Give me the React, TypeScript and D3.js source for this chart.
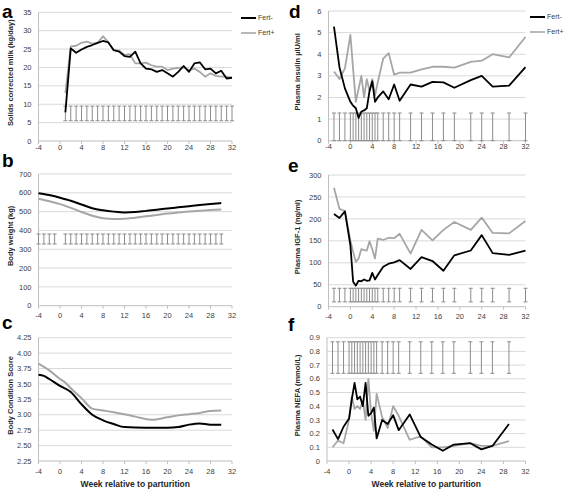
import React from "react";
import * as d3 from "d3";

// ---------- Data ----------
const xTicks = [-4, 0, 4, 8, 12, 16, 20, 24, 28, 32];

// a: Solids corrected milk
const aWeeks = [1,2,3,4,5,6,7,8,9,10,11,12,13,14,15,16,17,18,19,20,21,22,23,24,25,26,27,28,29,30,31,32];
const aFertMinus = [7.8,25.2,24.0,24.9,25.6,26.1,26.7,27.2,26.8,24.7,24.3,23.1,22.9,24.3,21.1,19.7,19.5,18.8,19.3,18.4,17.5,18.8,20.4,18.8,21.1,21.4,19.5,19.7,18.4,19.1,17.0,17.2];
const aFertPlus = [13.0,25.7,25.9,26.7,27.0,26.5,26.7,28.5,26.8,24.7,24.6,23.4,23.6,21.1,21.1,21.3,20.6,20.2,20.2,19.3,19.7,19.9,20.0,19.3,19.7,18.8,17.5,18.4,17.7,17.5,17.5,17.2];
const aErrWeeks = [1,2,3,4,5,6,7,8,9,10,11,12,13,14,15,16,17,18,19,20,21,22,23,24,25,26,27,28,29,30,31,32];
const aErrLo = 5.5, aErrHi = 9.5;
const aYTicks = [0, 5, 10, 15, 20, 25, 30, 35];

// b: Body weight
const bWeeks = [-4,-2,0,2,4,6,8,10,12,14,16,18,20,22,24,26,28,30];
const bFertMinus = [598,588,574,558,538,518,507,500,496,498,504,510,517,523,529,535,540,546];
const bFertPlus = [568,555,540,520,498,478,465,461,462,468,475,482,490,496,501,505,509,511];
const bErrWeeks = [-4,-3,-2,-1,1,2,3,4,5,6,7,8,9,10,11,12,13,14,15,16,17,18,19,20,21,22,23,24,25,26,27,28,29,30];
const bErrLo = 328, bErrHi = 381;
const bYTicks = [0, 100, 200, 300, 400, 500, 600, 700];

// c: Body condition score
const cWeeksMinus = [-4,-3,-2,0,2,4,6,8,10,12,16,20,22,24,26,28,30];
const cFertMinus = [3.65,3.63,3.58,3.47,3.37,3.17,3.0,2.91,2.85,2.8,2.79,2.79,2.8,2.84,2.86,2.84,2.84];
const cWeeksPlus = [-4,-2,0,1,2,4,6,8,10,12,14,17,20,22,24,26,28,30];
const cFertPlus = [3.83,3.72,3.58,3.52,3.43,3.27,3.1,3.07,3.04,3.01,2.97,2.92,2.96,2.99,3.01,3.03,3.06,3.07];
const cYTicks = [2.25, 2.5, 2.75, 3.0, 3.25, 3.5, 3.75, 4.0, 4.25];

// d, e, f: plasma samples
const sWeeks = [-3,-2,-1,0,0.5,1,1.5,2,2.5,3,3.5,4,4.5,5,6,7,8,9,11,13,15,17,19,22,24,26,29,32];
const dFertMinus = [5.28,3.4,2.42,1.8,1.62,1.5,1.05,1.35,1.4,1.5,2.3,2.75,1.8,2.0,2.28,1.92,2.6,1.85,2.6,2.5,2.72,2.7,2.45,2.8,3.0,2.5,2.55,3.4];
const dFertPlus = [3.2,2.85,3.35,4.9,3.3,1.8,2.4,3.0,2.0,2.85,2.3,2.85,2.1,2.7,3.8,4.05,3.05,3.15,3.15,3.3,3.42,3.42,3.38,3.65,3.7,4.0,3.85,4.8];
const dErrLo = 0, dErrHi = 1.28;
const dYTicks = [0, 1, 2, 3, 4, 5, 6];

const eFertMinus = [211,202,217,140,57,48,59,58,62,59,60,77,62,72,91,98,101,106,86,113,104,82,117,128,163,122,118,128];
const eFertPlus = [271,223,218,151,125,102,110,131,129,128,149,131,110,155,152,157,156,166,121,175,151,175,193,175,203,168,167,195];
const eErrLo = 11, eErrHi = 42;
const eYTicks = [0, 50, 100, 150, 200, 250, 300];

const fWeeks = [-3,-2,-1,0,0.5,1,1.5,2,2.5,3,3.5,4,4.5,5,6,7,8,9,11,13,15,17,19,22,24,26,29];
const fFertMinus = [0.23,0.16,0.25,0.31,0.45,0.57,0.45,0.47,0.4,0.57,0.33,0.35,0.39,0.165,0.3,0.27,0.335,0.225,0.34,0.175,0.12,0.075,0.12,0.13,0.085,0.11,0.27];
const fFertPlus = [0.1,0.15,0.13,0.3,0.47,0.38,0.4,0.38,0.44,0.3,0.6,0.35,0.22,0.49,0.32,0.24,0.4,0.33,0.155,0.18,0.1,0.1,0.11,0.13,0.11,0.11,0.145];
const fErrLo = 0.64, fErrHi = 0.87;
const fYTicks = [0, 0.1, 0.2, 0.3, 0.4, 0.5, 0.6, 0.7, 0.8, 0.9];

const seriesNames = ["Fert-", "Fert+"];

// ---------- Styles ----------
const BLACK = "#000000";
const GREY = "#a6a6a6";
const GRID = "#d9d9d9";
const AXIS = "#bfbfbf";
const ERR = "#8c8c8c";
const TXT = "#404040";
const FONT = "'Liberation Sans', Arial, sans-serif";

type Series = { xs: number[]; ys: number[]; color: string; smooth?: boolean };

type PanelProps = {
  letter: string;
  letterX: number;
  letterY: number;
  x0: number;
  x1: number;
  y0: number;
  y1: number;
  yDomain: [number, number];
  yTicks: number[];
  yFmt: (v: number) => string;
  yTitle: string;
  titleX: number;
  series: Series[];
  errX?: number[];
  errLo?: number;
  errHi?: number;
  xLabelOffset: number;
  xTitle?: boolean;
  legend?: { x: number; y: number };
};

function Panel(p: PanelProps) {
  const x = d3.scaleLinear().domain([-4, 32]).range([p.x0, p.x1]);
  const y = d3.scaleLinear().domain(p.yDomain).range([p.y1, p.y0]);
  return (
    <g>
      <text x={p.letterX} y={p.letterY} fontFamily={FONT} fontWeight="bold" fontSize={19} fill="#000">
        {p.letter}
      </text>
      {p.yTicks.map((t, i) => (
        <g key={"g" + i}>
          {i > 0 && <line x1={p.x0} x2={p.x1} y1={y(t)} y2={y(t)} stroke={GRID} strokeWidth={1} />}
          <text x={p.x0 - 7} y={y(t)} dy="0.35em" textAnchor="end" fontFamily={FONT} fontSize={7.5} fill={TXT}>
            {p.yFmt(t)}
          </text>
        </g>
      ))}
      <line x1={p.x0} x2={p.x0} y1={p.y0} y2={p.y1} stroke={AXIS} strokeWidth={1} />
      <line x1={p.x0} x2={p.x1} y1={p.y1} y2={p.y1} stroke={AXIS} strokeWidth={1} />
      {xTicks.map((t, i) => (
        <g key={"x" + i}>
          <line x1={x(t)} x2={x(t)} y1={p.y1} y2={p.y1 + 3} stroke={AXIS} strokeWidth={1} />
          <text x={x(t)} y={p.y1 + p.xLabelOffset} dy="0.35em" textAnchor="middle" fontFamily={FONT} fontSize={7.5} fill={TXT}>
            {t}
          </text>
        </g>
      ))}
      {p.errX &&
        p.errX.map((w, i) => {
          const cx = x(w);
          const ya = y(p.errLo as number);
          const yb = y(p.errHi as number);
          return (
            <g key={"e" + i} stroke={ERR} strokeWidth={1}>
              <line x1={cx} x2={cx} y1={ya} y2={yb} />
              <line x1={cx - 2} x2={cx + 2} y1={ya} y2={ya} />
              <line x1={cx - 2} x2={cx + 2} y1={yb} y2={yb} />
            </g>
          );
        })}
      {p.series.map((s, i) => {
        const gen = d3
          .line<number>()
          .x((_, j) => x(s.xs[j]))
          .y((v) => y(v))
          .curve(s.smooth ? d3.curveMonotoneX : d3.curveLinear);
        return (
          <path key={"s" + i} d={gen(s.ys) || ""} fill="none" stroke={s.color} strokeWidth={s.smooth ? 2 : 1.8} strokeLinejoin="round" />
        );
      })}
      <text
        transform={`translate(${p.titleX},${(p.y0 + p.y1) / 2 - 4}) rotate(-90)`}
        textAnchor="middle"
        fontFamily={FONT}
        fontWeight="bold"
        fontSize={7.5}
        fill="#262626"
      >
        {p.yTitle}
      </text>
      {p.xTitle && (
        <text x={(p.x0 + p.x1) / 2} y={p.y1 + 26} textAnchor="middle" fontFamily={FONT} fontWeight="bold" fontSize={8.5} fill="#262626">
          Week relative to parturition
        </text>
      )}
      {p.legend &&
        seriesNames.map((n, i) => (
          <g key={"l" + i}>
            <line
              x1={p.legend!.x}
              x2={p.legend!.x + 15}
              y1={p.legend!.y + i * 15}
              y2={p.legend!.y + i * 15}
              stroke={i === 0 ? BLACK : GREY}
              strokeWidth={i === 0 ? 2 : 1.6}
            />
            <text x={p.legend!.x + 17} y={p.legend!.y + i * 15} dy="0.35em" fontFamily={FONT} fontSize={7} fill={TXT}>
              {n}
            </text>
          </g>
        ))}
    </g>
  );
}

const intFmt = (v: number) => d3.format("d")(v);
const f2 = (v: number) => d3.format(".2f")(v);
const f1 = (v: number) => (v === 0 ? "0" : d3.format(".1f")(v));

export default function App() {
  const L0 = 38.5, L1 = 232;
  const R0 = 328.5, R1 = 525.5;
  return (
    <svg width={567} height={490} style={{ position: "absolute", left: 0, top: 0, background: "#fff" }}>
      <rect width={567} height={490} fill="#fff" />
      <Panel
        letter="a" letterX={2} letterY={18}
        x0={L0} x1={L1} y0={12.3} y1={141}
        yDomain={[0, 35]} yTicks={aYTicks} yFmt={intFmt}
        yTitle="Solids corrected milk (kg/day)" titleX={13}
        series={[
          { xs: aWeeks, ys: aFertPlus, color: GREY },
          { xs: aWeeks, ys: aFertMinus, color: BLACK },
        ]}
        errX={aErrWeeks} errLo={aErrLo} errHi={aErrHi}
        xLabelOffset={6}
        legend={{ x: 241, y: 18 }}
      />
      <Panel
        letter="b" letterX={2} letterY={167}
        x0={L0} x1={L1} y0={174} y1={305.7}
        yDomain={[0, 700]} yTicks={bYTicks} yFmt={intFmt}
        yTitle="Body weight (kg)" titleX={13}
        series={[
          { xs: bWeeks, ys: bFertPlus, color: GREY, smooth: true },
          { xs: bWeeks, ys: bFertMinus, color: BLACK, smooth: true },
        ]}
        errX={bErrWeeks} errLo={bErrLo} errHi={bErrHi}
        xLabelOffset={10}
      />
      <Panel
        letter="c" letterX={2} letterY={329}
        x0={L0} x1={L1} y0={337.7} y1={461}
        yDomain={[2.25, 4.25]} yTicks={cYTicks} yFmt={f2}
        yTitle="Body Condition Score" titleX={13}
        series={[
          { xs: cWeeksPlus, ys: cFertPlus, color: GREY, smooth: true },
          { xs: cWeeksMinus, ys: cFertMinus, color: BLACK, smooth: true },
        ]}
        xLabelOffset={10}
        xTitle
      />
      <Panel
        letter="d" letterX={289} letterY={18}
        x0={R0} x1={R1} y0={11} y1={140.7}
        yDomain={[0, 6]} yTicks={dYTicks} yFmt={intFmt}
        yTitle="Plasma insulin µIU/ml" titleX={300}
        series={[
          { xs: sWeeks, ys: dFertPlus, color: GREY },
          { xs: sWeeks, ys: dFertMinus, color: BLACK },
        ]}
        errX={sWeeks} errLo={dErrLo} errHi={dErrHi}
        xLabelOffset={6}
        legend={{ x: 530, y: 17 }}
      />
      <Panel
        letter="e" letterX={288} letterY={172}
        x0={R0} x1={R1} y0={175} y1={306.7}
        yDomain={[0, 300]} yTicks={eYTicks} yFmt={intFmt}
        yTitle="Plasma IGF-1 (ng/ml)" titleX={300}
        series={[
          { xs: sWeeks, ys: eFertPlus, color: GREY },
          { xs: sWeeks, ys: eFertMinus, color: BLACK },
        ]}
        errX={sWeeks} errLo={eErrLo} errHi={eErrHi}
        xLabelOffset={10}
      />
      <Panel
        letter="f" letterX={288} letterY={331}
        x0={R0 - 1.5} x1={R1} y0={337.7} y1={461}
        yDomain={[0, 0.9]} yTicks={fYTicks} yFmt={f1}
        yTitle="Plasma NEFA (mmol/L)" titleX={300}
        series={[
          { xs: fWeeks, ys: fFertPlus, color: GREY },
          { xs: fWeeks, ys: fFertMinus, color: BLACK },
        ]}
        errX={fWeeks} errLo={fErrLo} errHi={fErrHi}
        xLabelOffset={10}
        xTitle
      />
    </svg>
  );
}
